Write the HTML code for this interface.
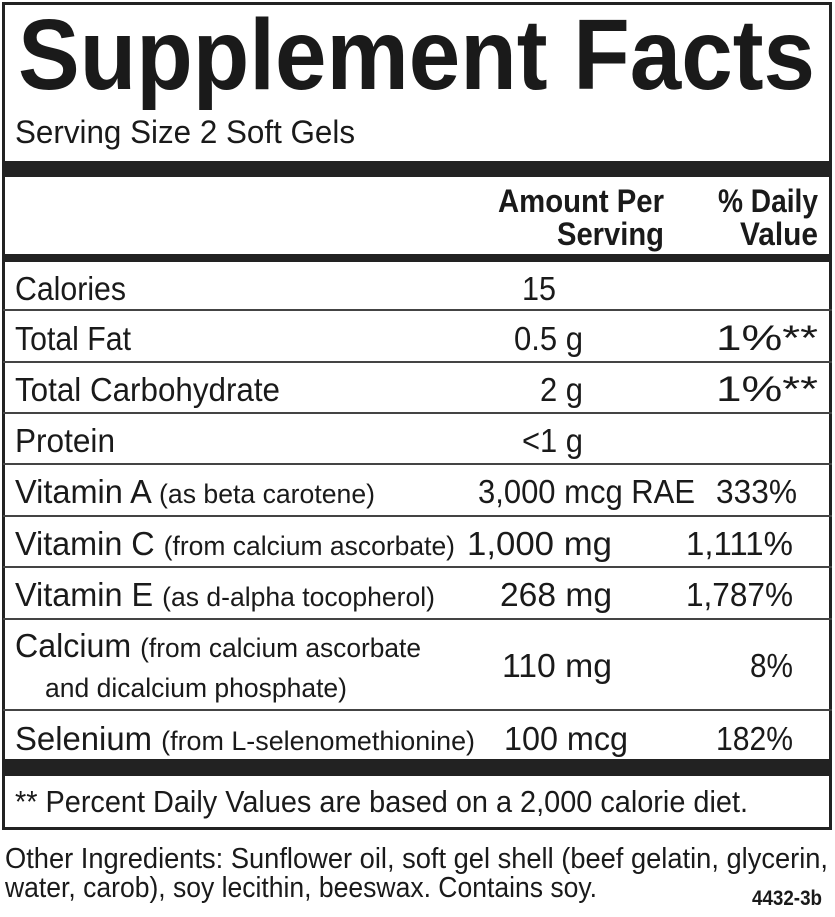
<!DOCTYPE html>
<html><head><meta charset="utf-8"><style>
html,body{margin:0;padding:0;background:#fff;}
svg{display:block}
text{font-family:"Liberation Sans Narrow","Liberation Sans",sans-serif;fill:#1a1a1a;}
</style></head><body>
<svg width="835" height="917" viewBox="0 0 835 917" xmlns="http://www.w3.org/2000/svg">
<rect x="3.5" y="3.5" width="827" height="825" fill="none" stroke="#222" stroke-width="3"/>
<text x="18" y="89" font-size="100" font-weight="bold" font-family="Liberation Sans" textLength="797" lengthAdjust="spacingAndGlyphs">Supplement Facts</text>
<text x="15" y="143" font-size="32" textLength="340" lengthAdjust="spacingAndGlyphs">Serving Size 2 Soft Gels</text>
<rect x="3" y="161" width="829" height="16" fill="#222"/>
<text x="498" y="212" font-size="32" font-weight="bold" textLength="166" lengthAdjust="spacingAndGlyphs">Amount Per</text>
<text x="557" y="245" font-size="32" font-weight="bold" textLength="107" lengthAdjust="spacingAndGlyphs">Serving</text>
<text x="718" y="212" font-size="32" font-weight="bold" textLength="100" lengthAdjust="spacingAndGlyphs">% Daily</text>
<text x="740" y="245" font-size="32" font-weight="bold" textLength="78" lengthAdjust="spacingAndGlyphs">Value</text>
<rect x="3" y="254" width="829" height="8" fill="#222"/>
<g fill="#444">
<rect x="3" y="309" width="829" height="2"/>
<rect x="3" y="361" width="829" height="2"/>
<rect x="3" y="412" width="829" height="2"/>
<rect x="3" y="463" width="829" height="2"/>
<rect x="3" y="515" width="829" height="2"/>
<rect x="3" y="566" width="829" height="2"/>
<rect x="3" y="618" width="829" height="2"/>
<rect x="3" y="709" width="829" height="2"/>
</g>
<g font-size="33">
<text x="15" y="300" textLength="111" lengthAdjust="spacingAndGlyphs">Calories</text>
<text x="522" y="300" textLength="34" lengthAdjust="spacingAndGlyphs">15</text>
<text x="15" y="350" textLength="116" lengthAdjust="spacingAndGlyphs">Total Fat</text>
<text x="514" y="350" textLength="69" lengthAdjust="spacingAndGlyphs">0.5 g</text>
<text x="716" y="350" font-size="35" textLength="102" lengthAdjust="spacingAndGlyphs">1%**</text>
<text x="15" y="401" textLength="265" lengthAdjust="spacingAndGlyphs">Total Carbohydrate</text>
<text x="540" y="401" textLength="43" lengthAdjust="spacingAndGlyphs">2 g</text>
<text x="716" y="401" font-size="35" textLength="102" lengthAdjust="spacingAndGlyphs">1%**</text>
<text x="15" y="452" textLength="100" lengthAdjust="spacingAndGlyphs">Protein</text>
<text x="522" y="452" textLength="61" lengthAdjust="spacingAndGlyphs">&lt;1 g</text>
<text x="15" y="503" textLength="360" lengthAdjust="spacingAndGlyphs">Vitamin A <tspan font-size="27">(as beta carotene)</tspan></text>
<text x="478" y="503" textLength="217" lengthAdjust="spacingAndGlyphs">3,000 mcg RAE</text>
<text x="716" y="503" textLength="81" lengthAdjust="spacingAndGlyphs">333%</text>
<text x="15" y="555" textLength="440" lengthAdjust="spacingAndGlyphs">Vitamin C <tspan font-size="27">(from calcium ascorbate)</tspan></text>
<text x="467" y="555" textLength="145" lengthAdjust="spacingAndGlyphs">1,000 mg</text>
<text x="686" y="555" textLength="107" lengthAdjust="spacingAndGlyphs">1,111%</text>
<text x="15" y="606" textLength="420" lengthAdjust="spacingAndGlyphs">Vitamin E <tspan font-size="27">(as d-alpha tocopherol)</tspan></text>
<text x="500" y="606" textLength="112" lengthAdjust="spacingAndGlyphs">268 mg</text>
<text x="686" y="606" textLength="107" lengthAdjust="spacingAndGlyphs">1,787%</text>
<text x="15" y="657" textLength="406" lengthAdjust="spacingAndGlyphs">Calcium <tspan font-size="27">(from calcium ascorbate</tspan></text>
<text x="45" y="697" font-size="27" textLength="302" lengthAdjust="spacingAndGlyphs">and dicalcium phosphate)</text>
<text x="502" y="677" textLength="110" lengthAdjust="spacingAndGlyphs">110 mg</text>
<text x="750" y="677" textLength="43" lengthAdjust="spacingAndGlyphs">8%</text>
<text x="15" y="750" textLength="460" lengthAdjust="spacingAndGlyphs">Selenium <tspan font-size="27">(from L-selenomethionine)</tspan></text>
<text x="504" y="750" textLength="124" lengthAdjust="spacingAndGlyphs">100 mcg</text>
<text x="716" y="750" textLength="77" lengthAdjust="spacingAndGlyphs">182%</text>
</g>
<rect x="3" y="759" width="829" height="17" fill="#222"/>
<text x="15" y="812" font-size="31" textLength="733" lengthAdjust="spacingAndGlyphs">** Percent Daily Values are based on a 2,000 calorie diet.</text>
<text x="5" y="868" font-size="29" textLength="823" lengthAdjust="spacingAndGlyphs">Other Ingredients: Sunflower oil, soft gel shell (beef gelatin, glycerin,</text>
<text x="5" y="897" font-size="29" textLength="592" lengthAdjust="spacingAndGlyphs">water, carob), soy lecithin, beeswax. Contains soy.</text>
<text x="752" y="905" font-size="21" font-weight="bold" textLength="70" lengthAdjust="spacingAndGlyphs">4432-3b</text>
</svg>
</body></html>
